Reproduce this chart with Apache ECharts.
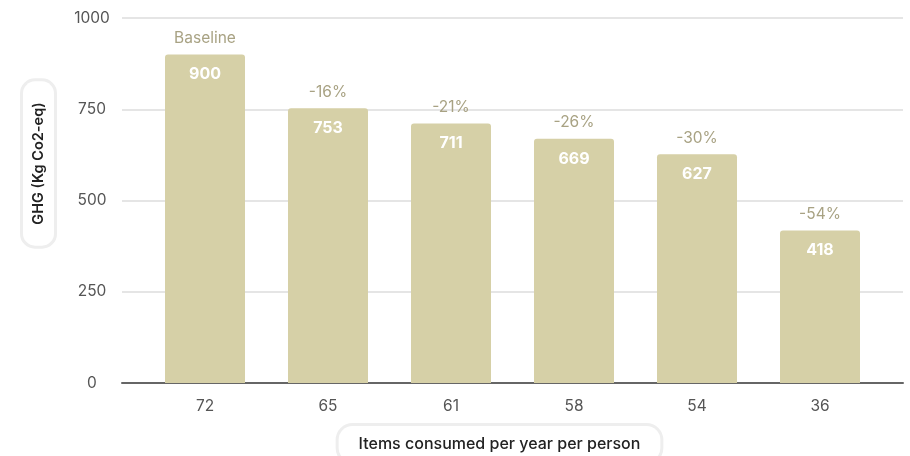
<!DOCTYPE html>
<html>
<head>
<meta charset="utf-8">
<script src="https://cdn.jsdelivr.net/npm/echarts@6/dist/echarts.min.js"></script>
<style>
  html, body { margin: 0; padding: 0; background: #fff; }
  #chart { width: 910px; height: 456px; }
</style>
</head>
<body>
<div id="chart"></div>
<script>
// Items consumed per year per person and the resulting emissions
const categories = ['72', '65', '61', '58', '54', '36'];
const ghgValues = [900, 753, 711, 669, 627, 418];
const changeLabels = ['Baseline', '-16%', '-21%', '-26%', '-30%', '-54%'];
const yTicks = [0, 250, 500, 750, 1000];

const FONT = 'Inter, "Noto Sans", sans-serif';
const BAR = '#d6d0a7';

const chart = echarts.init(document.getElementById('chart'), null, { renderer: 'canvas' });

chart.setOption({
  animation: false,
  textStyle: { fontFamily: FONT },
  grid: [
    // frame grid: gridlines, y labels and baseline
    { left: 122, right: 7, top: 18, bottom: 73 },
    // bar grid, inset from the frame
    { left: 143.5, right: 28.5, top: 18, bottom: 73 }
  ],
  xAxis: [
    {
      gridIndex: 0, type: 'value', min: 0, max: 1,
      axisLine: { show: true, onZero: false, lineStyle: { color: '#666', width: 2 } },
      axisTick: { show: false }, axisLabel: { show: false }, splitLine: { show: false }
    },
    {
      gridIndex: 1, type: 'category', data: categories,
      axisLine: { show: false }, axisTick: { show: false },
      axisLabel: { color: '#555', fontSize: 15.5, margin: 15, fontFamily: FONT }
    }
  ],
  yAxis: [
    {
      gridIndex: 0, type: 'value', min: yTicks[0], max: yTicks[yTicks.length - 1], interval: 250,
      axisLine: { show: false }, axisTick: { show: false },
      axisLabel: { color: '#555', fontSize: 15.5, margin: 30, align: 'center', fontFamily: FONT,
        formatter: v => yTicks.includes(v) ? String(v) : '' },
      splitLine: { lineStyle: { color: '#dcdcdc', width: 1.5 } }
    },
    {
      gridIndex: 1, type: 'value', min: 0, max: 1000, show: false
    }
  ],
  series: [
    {
      type: 'bar', xAxisIndex: 1, yAxisIndex: 1,
      data: ghgValues, barWidth: 80,
      itemStyle: { color: BAR, borderRadius: [3, 3, 0, 0] },
      label: {
        show: true, position: 'insideTop', distance: 12,
        color: '#fff', fontSize: 16, fontWeight: 'bold', fontFamily: FONT
      }
    },
    {
      // percentage change labels sitting above each bar
      type: 'bar', xAxisIndex: 1, yAxisIndex: 1,
      data: ghgValues, barWidth: 80, barGap: '-100%', silent: true,
      itemStyle: { color: 'rgba(0,0,0,0)' },
      label: {
        show: true, position: 'top', distance: 8,
        color: '#a8a283', fontSize: 15.5, fontFamily: FONT,
        formatter: p => changeLabels[p.dataIndex]
      }
    }
  ],
  graphic: [
    {
      type: 'text', x: 38.5, y: 163.5, rotation: Math.PI / 2,
      style: {
        text: 'GHG (Kg Co2-eq)', align: 'center', verticalAlign: 'middle',
        font: '600 14.5px ' + FONT, fill: '#222',
        backgroundColor: '#fff', borderColor: '#eeeeee', borderWidth: 3, borderRadius: 12,
        padding: [8, 21, 8, 21]
      }
    },
    {
      type: 'text', x: 499.5, y: 444,
      style: {
        text: 'Items consumed per year per person', align: 'center', verticalAlign: 'middle',
        font: '500 16px ' + FONT, fill: '#222',
        backgroundColor: '#fff', borderColor: '#eeeeee', borderWidth: 3, borderRadius: 14,
        padding: [10, 20, 10, 20]
      }
    }
  ]
});
</script>
</body>
</html>
